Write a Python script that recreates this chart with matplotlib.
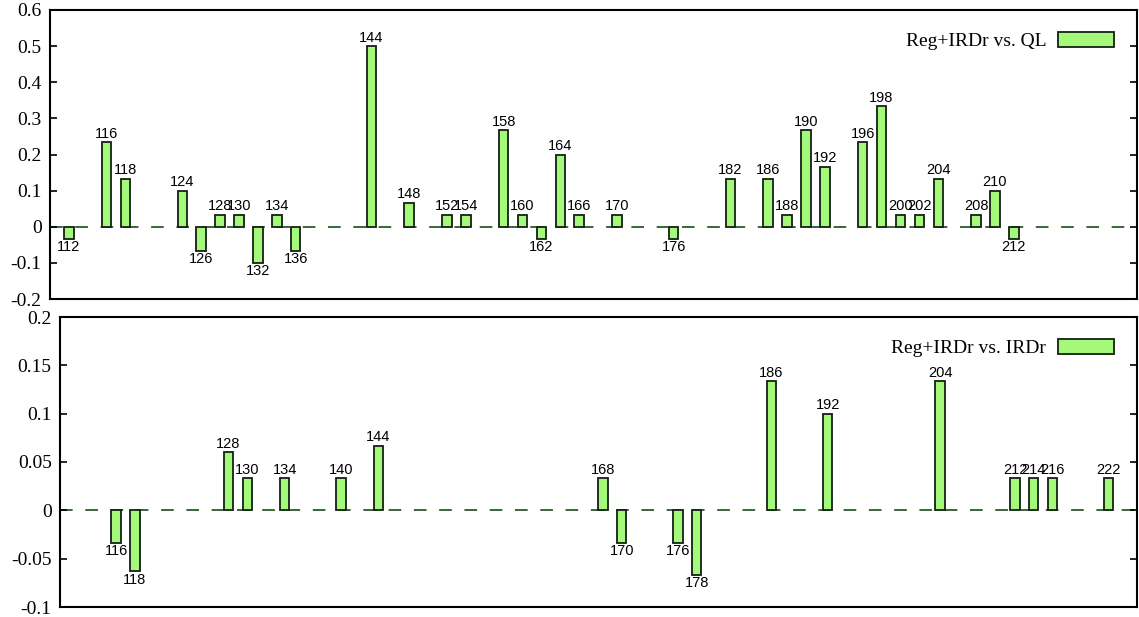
import numpy as np
import matplotlib
matplotlib.use('Agg')
import matplotlib.pyplot as plt
from matplotlib.ticker import FuncFormatter

# Reg+IRDr vs. QL (top panel)
res_ql = [112, 116, 118, 124, 126, 128, 130, 132, 134, 136, 144, 148, 152, 154,
          158, 160, 162, 164, 166, 170, 176, 182, 186, 188, 190, 192, 196, 198,
          200, 202, 204, 208, 210, 212]
val_ql = [-0.0333, 0.2333, 0.1333, 0.1, -0.0667, 0.0333, 0.0333, -0.1, 0.0333,
          -0.0667, 0.5, 0.0667, 0.0333, 0.0333, 0.2667, 0.0333, -0.0333, 0.2,
          0.0333, 0.0333, -0.0333, 0.1333, 0.1333, 0.0333, 0.2667, 0.1667,
          0.2333, 0.3333, 0.0333, 0.0333, 0.1333, 0.0333, 0.1, -0.0333]

# Reg+IRDr vs. IRDr (bottom panel)
res_irdr = [116, 118, 128, 130, 134, 140, 144, 168, 170, 176, 178, 186, 192,
            204, 212, 214, 216, 222]
val_irdr = [-0.0333, -0.063, 0.06, 0.0333, 0.0333, 0.0333, 0.0667, 0.0333,
            -0.0333, -0.0333, -0.0667, 0.1333, 0.1, 0.1333, 0.0333, 0.0333,
            0.0333, 0.0333]

yticks_ql = [-0.2, -0.1, 0, 0.1, 0.2, 0.3, 0.4, 0.5, 0.6]
yticks_irdr = [-0.1, -0.05, 0, 0.05, 0.1, 0.15, 0.2]

bar_color = '#a4f87a'
edge_color = '#142014'
zero_color = '#2a5a2a'
serif = 'Liberation Serif'
sans = 'Liberation Sans'


def gp_fmt(v, pos):
    return '%g' % round(v, 6)


def draw_panel(ax, res, vals, yticks, label):
    ax.axhline(0, color=zero_color, lw=1.3, dashes=(7, 7), zorder=1)
    ax.bar(res, vals, width=1.0, color=bar_color, edgecolor=edge_color,
           linewidth=1.3, zorder=2, label=label)
    for r, v in zip(res, vals):
        if v >= 0:
            ax.annotate(str(r), (r, v), xytext=(0, 1), textcoords='offset points',
                        ha='center', va='bottom', fontsize=10.5,
                        family=sans, zorder=3)
        else:
            ax.annotate(str(r), (r, v), xytext=(0, -1), textcoords='offset points',
                        ha='center', va='top', fontsize=10.5,
                        family=sans, zorder=3)
    ax.set_xlim(110, 225)
    ax.set_ylim(yticks[0], yticks[-1])
    ax.set_yticks(yticks)
    ax.yaxis.set_major_formatter(FuncFormatter(gp_fmt))
    ax.set_xticks([])
    ax.tick_params(axis='y', direction='in', length=5, width=1.2,
                   right=True, labelsize=14, pad=6)
    for lab in ax.get_yticklabels():
        lab.set_family(serif)
    for sp in ax.spines.values():
        sp.set_linewidth(1.5)
    ax.legend(loc='upper right', markerfirst=False, frameon=False,
              handlelength=2.9, handleheight=0.75, handletextpad=0.6,
              borderaxespad=0.75, prop={'family': serif, 'size': 14})


fig = plt.figure(figsize=(11.39, 6.17), dpi=100)
ax1 = fig.add_axes([50 / 1139, 318 / 617, 1086.7 / 1139, 289 / 617])
ax2 = fig.add_axes([60 / 1139, 10 / 617, 1076.7 / 1139, 290 / 617])

draw_panel(ax1, res_ql, val_ql, yticks_ql, 'Reg+IRDr vs. QL')
draw_panel(ax2, res_irdr, val_irdr, yticks_irdr, 'Reg+IRDr vs. IRDr')

fig.savefig('out.png', dpi=100)
